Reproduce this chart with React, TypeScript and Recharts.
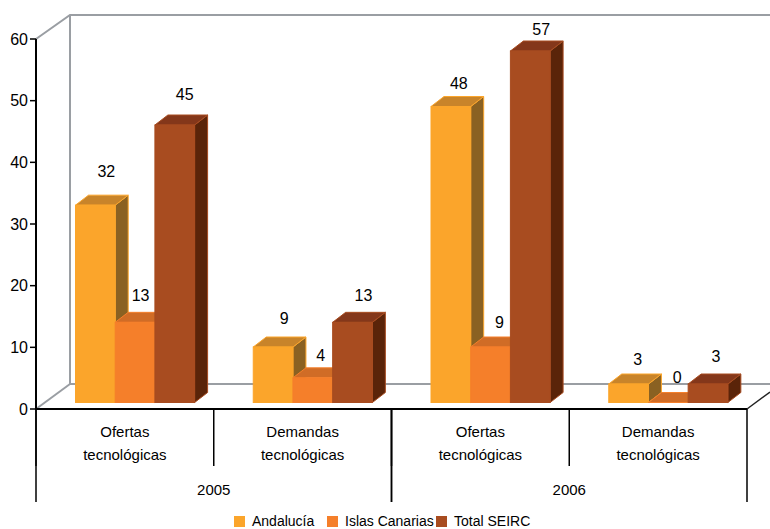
import { BarChart, Bar, XAxis, YAxis, Legend, LabelList } from 'recharts'

const categories = ['Ofertas tecnológicas', 'Demandas tecnológicas', 'Ofertas tecnológicas', 'Demandas tecnológicas']
const years = ['2005', '2005', '2006', '2006']
const andalucia = [32, 9, 48, 3]
const islasCanarias = [13, 4, 9, 0]
const totalSeirc = [45, 13, 57, 3]
const yTicks = [0, 10, 20, 30, 40, 50, 60]

// how far each value label sits above / right of its bar
const liftAndalucia = [33, 28, 23, 24]
const liftIslas = [26, 22, 24, 25]
const liftTotal = [30, 26, 21, 27]
const nudgeAndalucia = [11, 11, 8, 9]
const nudgeIslas = [5.5, 8, 9, 9]
const nudgeTotal = [10, 11, 11, 8]

const data = categories.map((category, i) => ({
  category,
  year: years[i],
  andalucia: andalucia[i],
  islas: islasCanarias[i],
  total: totalSeirc[i],
}))

const FONT = '"Liberation Sans", sans-serif'
const DEPTH_X = 13
const DEPTH_Y = 10
const SHIFT_X = 10.5
const SHIFT_Y = -6.5
const BAND = 177.75
const WALL = '#9a9ea3'
const legendWidths = [93, 109, 100]

function Bar3D({ x, y, width, height, front, top, side, edge }: any) {
  const l = x + SHIFT_X
  const r = l + width
  const t = y + SHIFT_Y
  const b = t + height
  return (
    <g stroke={edge} strokeWidth={1}>
      <polygon points={`${r},${t} ${r + DEPTH_X},${t - DEPTH_Y} ${r + DEPTH_X},${b - DEPTH_Y} ${r},${b}`} fill={side} />
      <polygon points={`${l},${t} ${l + DEPTH_X},${t - DEPTH_Y} ${r + DEPTH_X},${t - DEPTH_Y} ${r},${t}`} fill={top} />
      <rect x={l} y={t} width={width} height={height} fill={front} />
    </g>
  )
}

function valueLabel(lift: number[], nudge: number[]) {
  return ({ x, y, width, value, index }: any) => (
    <text
      x={x + width / 2 + SHIFT_X + nudge[index]}
      y={y + SHIFT_Y - lift[index] + 5}
      textAnchor="middle"
      fontFamily={FONT}
      fontSize={16}
      fill="#000"
    >
      {value}
    </text>
  )
}

function CategoryTick({ x, y, payload }: any) {
  const [first, second] = String(payload.value).split(' ')
  const left = x - BAND / 2
  return (
    <g>
      <line x1={left} y1={y - 8} x2={left} y2={y + 49} stroke="#000" strokeWidth={1.5} />
      <text x={x} y={y + 20} textAnchor="middle" fontFamily={FONT} fontSize={15} fill="#000">
        {first}
      </text>
      <text x={x} y={y + 43} textAnchor="middle" fontFamily={FONT} fontSize={15} fill="#000">
        {second}
      </text>
    </g>
  )
}

function YearTick({ x, y, payload, index }: any) {
  // one label per pair of categories, with the long divider on the pair's left
  if (index % 2 === 1) {
    return <line x1={x + BAND / 2} y1={y - 65} x2={x + BAND / 2} y2={y + 28} stroke="#000" strokeWidth={1.5} />
  }
  return (
    <g>
      <line x1={x - BAND / 2} y1={y - 65} x2={x - BAND / 2} y2={y + 28} stroke="#000" strokeWidth={1.5} />
      <text x={x + BAND / 2} y={y + 21} textAnchor="middle" fontFamily={FONT} fontSize={15} fill="#000">
        {payload.value}
      </text>
    </g>
  )
}

function Walls() {
  return (
    <g fill="none">
      <path d="M36 39 L70 15 L770 15" stroke={WALL} strokeWidth={2} />
      <path d="M70 15 L70 384 L770 384" stroke={WALL} strokeWidth={2} />
      <path d="M36 409 L70 384" stroke={WALL} strokeWidth={2} />
      <path d="M747 409 L770 392" stroke="#222" strokeWidth={1.5} />
    </g>
  )
}

function LegendContent({ payload }: any) {
  return (
    <div style={{ display: 'flex', paddingLeft: 234, fontFamily: FONT, fontSize: 14, color: '#000' }}>
      {payload.map((item: any, i: number) => (
        <div key={item.value} style={{ display: 'flex', alignItems: 'center', width: legendWidths[i], flex: 'none' }}>
          <span style={{ width: 11, height: 11, background: item.color, marginRight: 7, flex: 'none' }} />
          <span style={{ whiteSpace: 'nowrap' }}>{item.value}</span>
        </div>
      ))}
    </div>
  )
}

export default function App() {
  return (
    <div style={{ position: 'absolute', left: 0, top: 0 }}>
      <BarChart
        width={770}
        height={529}
        data={data}
        margin={{ top: 39, right: 23, left: 0, bottom: 0 }}
        barSize={39.7}
        barGap={0}
      >
        <Walls />
        <XAxis
          dataKey="category"
          height={57}
          interval={0}
          axisLine={{ stroke: '#000', strokeWidth: 2 }}
          tickLine={false}
          tick={<CategoryTick />}
        />
        <XAxis
          xAxisId="year"
          dataKey="year"
          height={36}
          interval={0}
          axisLine={false}
          tickLine={false}
          tick={<YearTick />}
        />
        <YAxis
          width={36}
          domain={[0, 60]}
          ticks={yTicks}
          interval={0}
          axisLine={{ stroke: '#000', strokeWidth: 2 }}
          tickLine={{ stroke: '#000', strokeWidth: 1.5 }}
          tickSize={6}
          tickMargin={2}
          tick={{ fontFamily: FONT, fontSize: 16, fill: '#000' }}
        />
        <Legend height={27} wrapperStyle={{ left: 0, width: 770, top: 513 }} content={LegendContent} />
        <Bar
          dataKey="andalucia"
          name="Andalucía"
          fill="#fba52b"
          isAnimationActive={false}
          shape={(p: any) => <Bar3D {...p} front="#fba52b" top="#c8842a" side="#8a6122" edge="#fba52b" />}
        >
          <LabelList content={valueLabel(liftAndalucia, nudgeAndalucia)} />
        </Bar>
        <Bar
          dataKey="islas"
          name="Islas Canarias"
          fill="#f57f2a"
          isAnimationActive={false}
          shape={(p: any) => <Bar3D {...p} front="#f57f2a" top="#d06c26" side="#a8551e" edge="#f57f2a" />}
        >
          <LabelList content={valueLabel(liftIslas, nudgeIslas)} />
        </Bar>
        <Bar
          dataKey="total"
          name="Total SEIRC"
          fill="#a84c20"
          isAnimationActive={false}
          shape={(p: any) => <Bar3D {...p} front="#a84c20" top="#84371a" side="#5a2409" edge="#a84c20" />}
        >
          <LabelList content={valueLabel(liftTotal, nudgeTotal)} />
        </Bar>
      </BarChart>
    </div>
  )
}
